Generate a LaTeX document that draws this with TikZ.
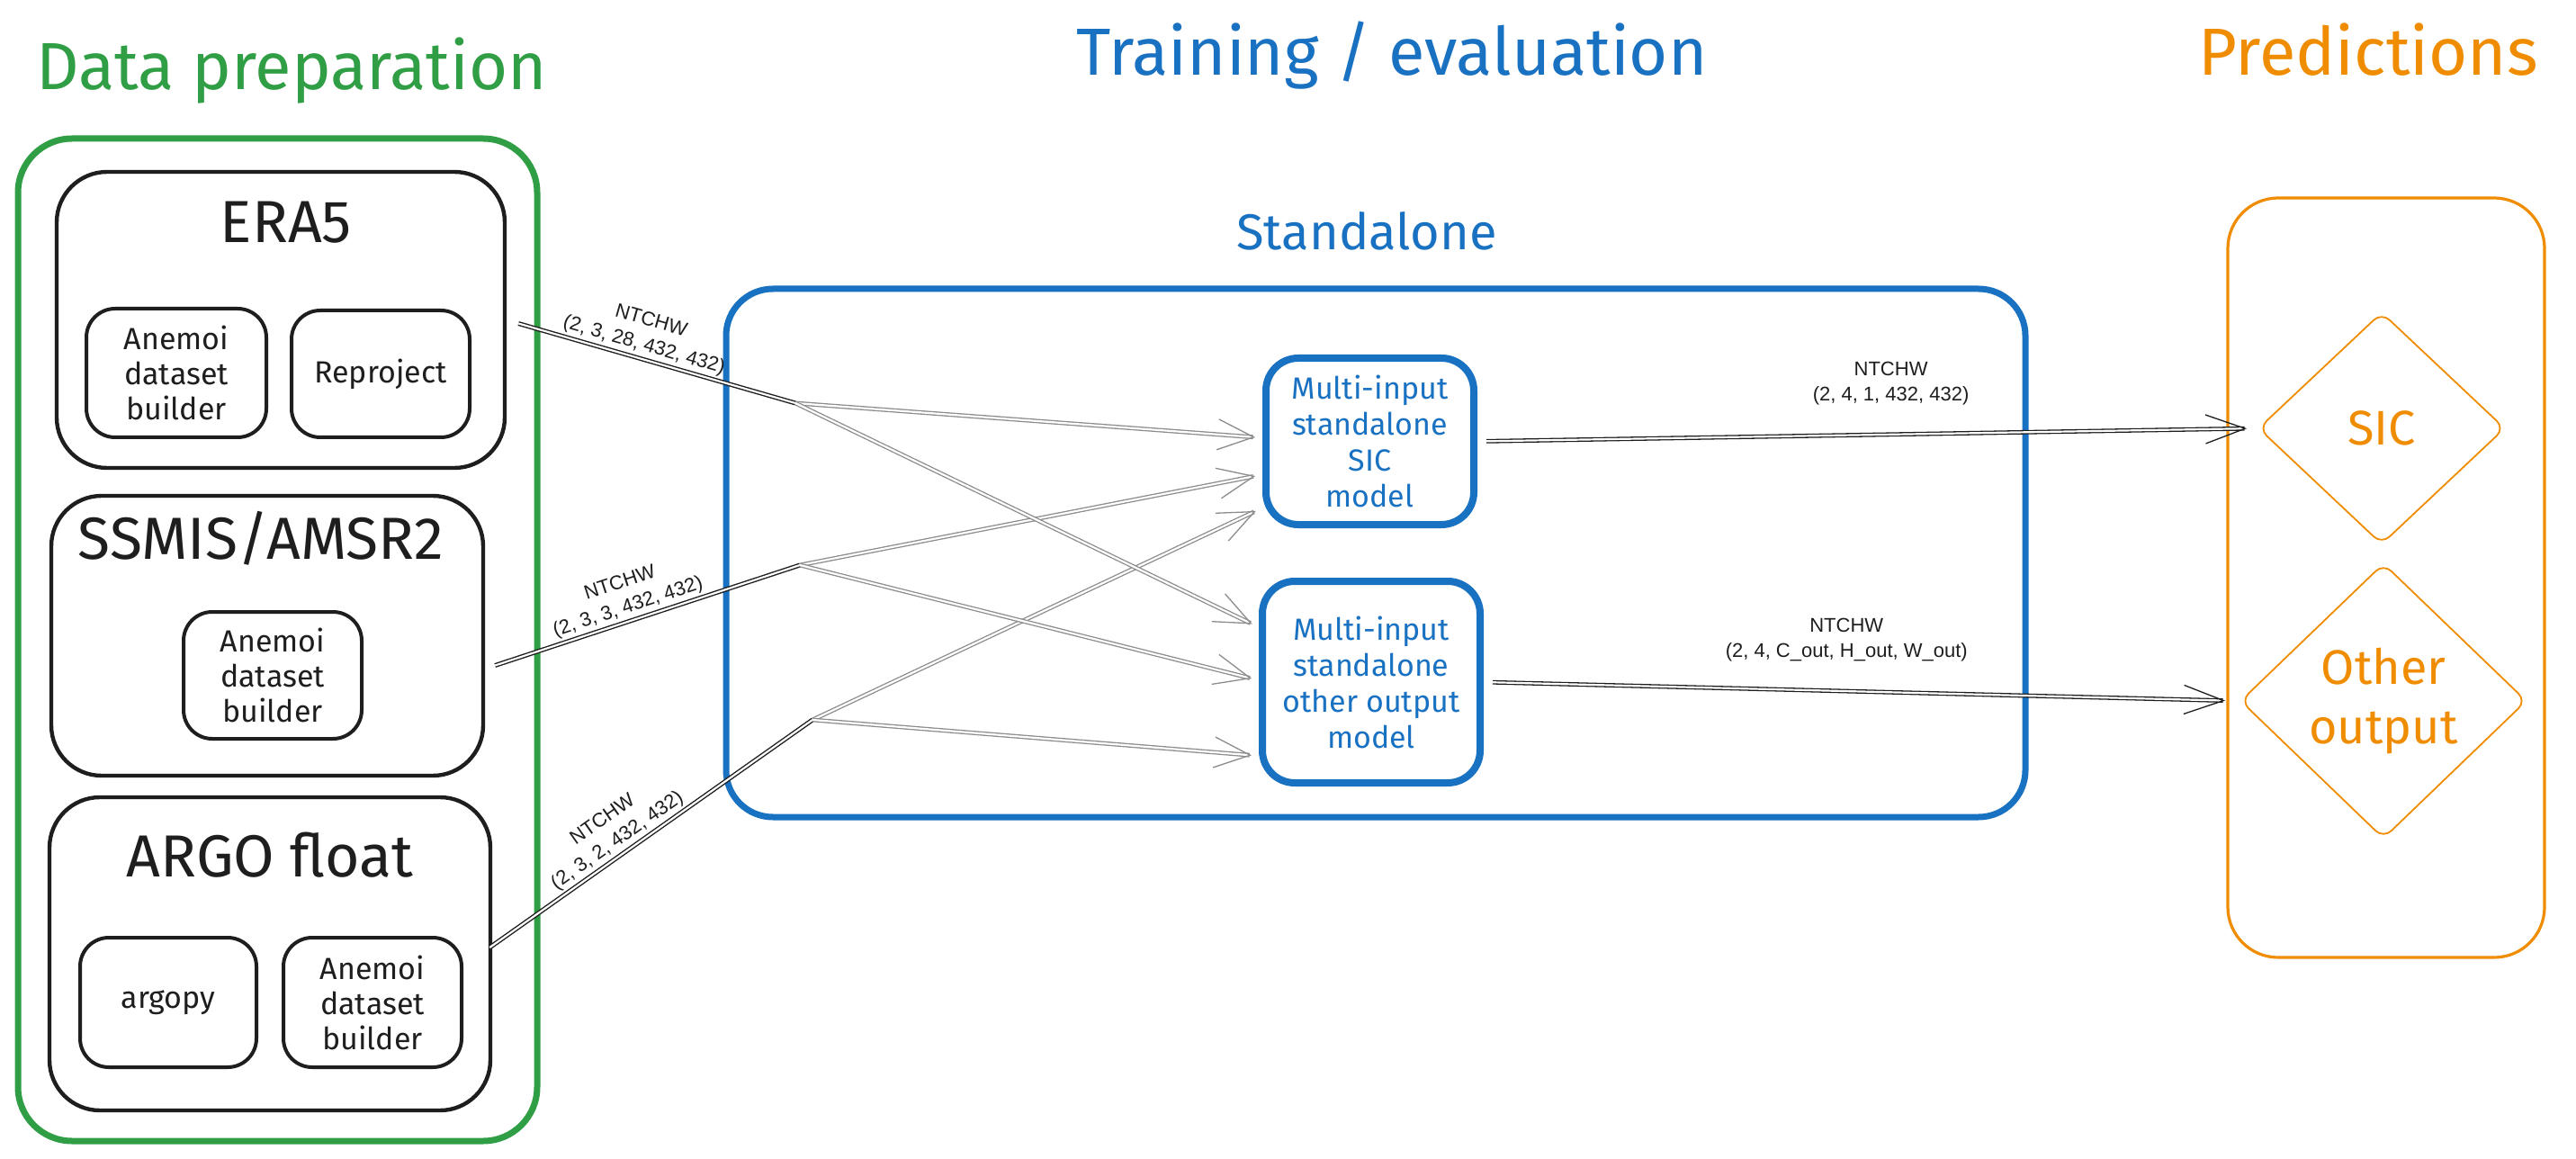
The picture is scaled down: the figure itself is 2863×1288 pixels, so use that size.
\documentclass[tikz,border=0pt]{standalone}
\usepackage{fontspec}
\setmainfont{Fira Sans}
\newfontfamily\lblfont{Liberation Sans}
\usetikzlibrary{shapes.geometric,arrows.meta,calc}
\definecolor{cgreen}{HTML}{2F9E44}
\definecolor{cblue}{HTML}{1971C2}
\definecolor{corange}{HTML}{F08C00}
\definecolor{cblack}{HTML}{1E1E1E}
\definecolor{cgray}{HTML}{8C8C8C}
\begin{document}
\begin{tikzpicture}[x=0.5pt,y=-0.5pt,
  grp/.style={rounded corners=30pt, inner sep=0pt},
  srcbox/.style={draw=cblack, line width=2.2pt, rounded corners=28pt, inner sep=0pt},
  subbox/.style={draw=cblack, line width=2pt, rounded corners=16pt, inner sep=0pt,
    align=center, text=cblack, font=\fontsize{17}{19.5}\selectfont},
  modelbox/.style={draw=cblue, line width=4pt, rounded corners=18pt, inner sep=0pt,
    align=center, text=cblue, font=\fontsize{17}{20}\selectfont},
  outdia/.style={diamond, draw=corange, line width=0.9pt, inner sep=0pt, align=center,
    text=corange, font=\fontsize{27}{33}\selectfont, rounded corners=6pt},
  title/.style={anchor=base, font=\fontsize{37}{44}\selectfont},
  srclabel/.style={anchor=base, text=cblack, font=\fontsize{33}{40}\selectfont},
  lbl/.style={align=center, text=cblack, inner sep=2pt, font=\lblfont\fontsize{11}{14}\selectfont},
  conn/.style={draw=cblack, line width=0.7pt, double=white, double distance=1.1pt},
  gconn/.style={draw=cgray, line width=0.65pt, double=white, double distance=1.1pt,
    -{Straight Barb[length=20pt,width=17pt]}, shorten >=4pt},
  oconn/.style={draw=cblack, line width=0.65pt, double=white, double distance=1.1pt,
    -{Straight Barb[length=22pt,width=16pt]}}
]
\fill[white] (0,0) rectangle (2863,1288);
\useasboundingbox (0,0) rectangle (2863,1288);

% titles
\node[title, text=cgreen] (tdata) at (324,100) {Data preparation};
\node[title, text=cblue] (ttrain) at (1547,84) {Training / evaluation};
\node[title, text=corange] (tpred) at (2632,84) {Predictions};
\node[anchor=base, text=cblue, font=\fontsize{28}{34}\selectfont] (tstand) at (1519,278) {Standalone};

% group boxes
\node[grp, draw=cgreen, line width=3.5pt, minimum width=288.5pt, minimum height=557pt] (green) at (308.5,711) {};
\node[grp, draw=cblue, line width=3.5pt, rounded corners=26pt, minimum width=722pt, minimum height=293.5pt] (blue) at (1529,614.5) {};
\node[grp, draw=corange, line width=1.6pt, rounded corners=28pt, minimum width=176pt, minimum height=422pt] (orange) at (2652,642) {};

% ERA5
\node[srcbox, minimum width=249pt, minimum height=164.5pt] (era) at (312,355.5) {};
\node[srclabel] (eralbl) at (318,270) {ERA5};
\node[subbox, minimum width=100pt, minimum height=71.5pt] (eraA) at (196,414.5) {Anemoi\\dataset\\builder};
\node[subbox, minimum width=99pt, minimum height=70.5pt] (eraR) at (423,415.5) {Reproject};

% SSMIS/AMSR2
\node[srcbox, minimum width=240pt, minimum height=155.5pt] (ssmis) at (297,706.5) {};
\node[srclabel] (sslbl) at (290,621) {SSMIS/AMSR2};
\node[subbox, minimum width=99pt, minimum height=70.5pt] (ssA) at (303,750.5) {Anemoi\\dataset\\builder};

% ARGO float
\node[srcbox, minimum width=245pt, minimum height=174pt] (argo) at (300,1060) {};
\node[srclabel] (arlbl) at (300,974) {ARGO float};
\node[subbox, minimum width=98pt, minimum height=72pt] (argopy) at (187,1114) {argopy};
\node[subbox, minimum width=99pt, minimum height=72pt] (argoA) at (414,1114) {Anemoi\\dataset\\builder};

% models
\node[modelbox, minimum width=115.5pt, minimum height=92.5pt] (sic) at (1522.5,490.5) {Multi-input\\standalone\\SIC\\model};
\node[modelbox, minimum width=121pt, minimum height=112pt] (oth) at (1524,758) {Multi-input\\standalone\\other output\\model};

% outputs
\node[outdia, minimum width=137pt, minimum height=129pt] (sicd) at (2647,476) {SIC};
\node[outdia, minimum width=159pt, minimum height=153pt] (othd) at (2649,779) {Other\\output};

% junctions
\coordinate (j1) at (884,448);
\coordinate (j2) at (889,628);
\coordinate (j3) at (903,800);

% input connectors
\draw[conn] ($(era.east)+(13,4)$) -- node[lbl, sloped, above, pos=0.44] (l1) {NTCHW\\(2, 3, 28, 432, 432)} (j1);
\draw[conn] ($(ssmis.east)+(11,33)$) -- node[lbl, sloped, above, pos=0.45] (l2) {NTCHW\\(2, 3, 3, 432, 432)} (j2);
\draw[conn] ($(argo.east)+(-3,-7)$) -- node[lbl, sloped, above, pos=0.42] (l3) {NTCHW\\(2, 3, 2, 432, 432)} (j3);

% fan-out
\draw[gconn] (j1) -- ($(sic.west)+(0,-4)$);
\draw[gconn] (j2) -- ($(sic.west)+(0,37)$);
\draw[gconn] (j3) -- ($(sic.west)+(0,74)$);
\draw[gconn] (j1) -- ($(oth.west)+(0,-61)$);
\draw[gconn] (j2) -- ($(oth.west)+(0,-2)$);
\draw[gconn] (j3) -- ($(oth.west)+(0,82)$);

% outputs
\draw[oconn, shorten <=5pt, shorten >=6pt] (sic.east) -- node[lbl, above=14pt, pos=0.53] (l4) {NTCHW\\(2, 4, 1, 432, 432)} (sicd.west);
\draw[oconn, shorten <=5pt, shorten >=8pt] (oth.east) -- node[lbl, above=14pt, pos=0.48] (l5) {NTCHW\\(2, 4, C\_out, H\_out, W\_out)} (othd.west);
\end{tikzpicture}
\end{document}
